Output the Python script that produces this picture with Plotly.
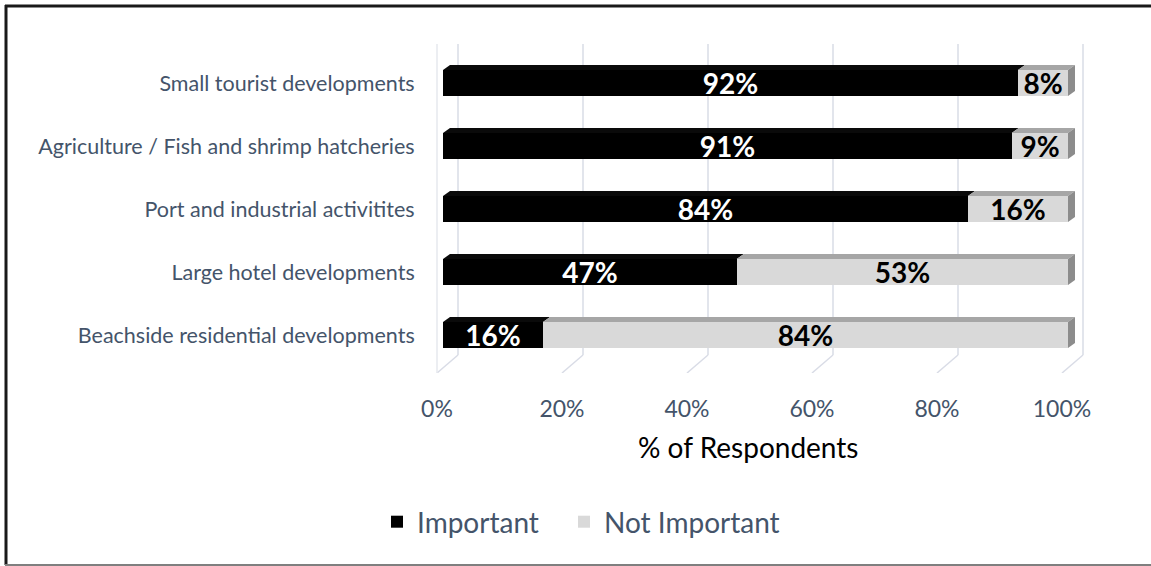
import plotly.graph_objects as go

# Survey responses: share of respondents rating each activity as a threat
categories = [
    "Small tourist developments",
    "Agriculture / Fish and shrimp hatcheries",
    "Port and industrial activitites",
    "Large hotel developments",
    "Beachside residential developments",
]
important = [92, 91, 84, 47, 16]
not_important = [8, 9, 16, 53, 84]
tick_values = [0, 20, 40, 60, 80, 100]
tick_labels = ["0%", "20%", "40%", "60%", "80%", "100%"]

# ---- canvas geometry (pixels) ----
W, H = 1151, 566
X0_PX, X100_PX = 443, 1068   # front face of the bars: 0% and 100%
PL, PR = 425, 1100           # plot area horizontal extent
T, B_PX = 40, 373            # plot area vertical extent
PW = PR - PL
PH = B_PX - T
ROW0 = 83                    # pixel centre of first row
ROW_STEP = 63

KX = (X100_PX - X0_PX) / 100.0   # px per percent
KY = ROW_STEP                     # px per row
x_min = (PL - X0_PX) / KX
x_max = (PR - X0_PX) / KX
y_top = -(ROW0 - T) / KY
y_bot = (B_PX - ROW0) / KY

rows = list(range(len(categories)))
BAR_W = 26 / KY


def xpx(v):
    return v / KX


def ypx(v):
    return v / KY


def row_at(py):
    return (py - ROW0) / KY


def px_to_paper_x(px):
    return (px - PL) / PW


def px_to_paper_y(py):
    return (B_PX - py) / PH


AXIS_COLOR = "#44546A"
FONT = "Lato"

fig = go.Figure()
fig.add_trace(go.Bar(
    name="Important", orientation="h", y=rows, x=important, width=BAR_W,
    marker=dict(color="#000000", line=dict(width=0)),
    texttemplate="%{x}%", textposition="inside", insidetextanchor="middle",
    textfont=dict(family=FONT, size=28, color="white", weight="bold"),
    constraintext="none", hoverinfo="x+name", legendwidth=142,
))
fig.add_trace(go.Bar(
    name="Not Important", orientation="h", y=rows, x=not_important, width=BAR_W,
    marker=dict(color="#D9D9D9", line=dict(width=0)),
    texttemplate="%{x}%", textposition="inside", insidetextanchor="middle",
    textfont=dict(family=FONT, size=28, color="black", weight="bold"),
    constraintext="none", hoverinfo="x+name",
))

shapes = []

# 3-D floor/back-wall grid: back vertical line + diagonal to the front edge
BACK_DX, FRONT_DX = 15, -6
GRID_TOP, GRID_BACK_BOTTOM = 44, 355
grid_col = "#D9DCE6"
for v in tick_values:
    xb = v + xpx(BACK_DX)
    xf = v + xpx(FRONT_DX)
    shapes.append(dict(type="line", xref="x", yref="y", x0=xb, x1=xb,
                       y0=row_at(GRID_TOP), y1=row_at(GRID_BACK_BOTTOM),
                       layer="below", line=dict(color=grid_col, width=1.5)))
    shapes.append(dict(type="line", xref="x", yref="y", x0=xb, x1=xf,
                       y0=row_at(GRID_BACK_BOTTOM), y1=y_bot,
                       layer="below", line=dict(color=grid_col, width=1.5)))
# front edge of the side wall
shapes.append(dict(type="line", xref="x", yref="y",
                   x0=xpx(FRONT_DX), x1=xpx(FRONT_DX),
                   y0=row_at(GRID_TOP), y1=y_bot, layer="below",
                   line=dict(color="#E6E8EE", width=1.5)))

# depth faces of the bars (top faces and right end cap)
DX, DY = xpx(7), ypx(5)
for r, a, b in zip(rows, important, not_important):
    top = r - BAR_W / 2
    bot = r + BAR_W / 2
    segs = [(0, a, "#0A0A0A"), (a, a + b, "#A6A6A6")]
    for x0, x1, col in segs:
        path = (f"M{x0},{top} L{x1},{top} L{x1 + DX},{top - DY} "
                f"L{x0 + DX},{top - DY} Z")
        shapes.append(dict(type="path", xref="x", yref="y", path=path,
                           fillcolor=col, line=dict(width=0), layer="above"))
    xe = a + b
    path = (f"M{xe},{top} L{xe + DX},{top - DY} L{xe + DX},{bot - DY} "
            f"L{xe},{bot} Z")
    shapes.append(dict(type="path", xref="x", yref="y", path=path,
                       fillcolor="#8C8C8C", line=dict(width=0), layer="above"))

# outer frame
shapes.append(dict(type="line", xref="paper", yref="paper",
                   x0=px_to_paper_x(6), x1=px_to_paper_x(6),
                   y0=px_to_paper_y(5), y1=px_to_paper_y(565),
                   line=dict(color="#1A1A1A", width=3)))
shapes.append(dict(type="line", xref="paper", yref="paper",
                   x0=px_to_paper_x(5), x1=px_to_paper_x(1160),
                   y0=px_to_paper_y(6), y1=px_to_paper_y(6),
                   line=dict(color="#1A1A1A", width=3)))
shapes.append(dict(type="line", xref="paper", yref="paper",
                   x0=px_to_paper_x(5), x1=px_to_paper_x(1160),
                   y0=px_to_paper_y(565), y1=px_to_paper_y(565),
                   line=dict(color="#7F7F7F", width=2)))

# axis title, centred under the front edge of the floor
annotations = [dict(
    text="% of Respondents", xref="paper", yref="paper",
    x=px_to_paper_x(748), y=px_to_paper_y(447),
    xanchor="center", yanchor="middle", showarrow=False,
    font=dict(family=FONT, size=28, color="black"),
)]

fig.update_layout(
    width=W, height=H,
    margin=dict(l=PL, r=W - PR, t=T, b=H - B_PX, autoexpand=False),
    paper_bgcolor="white", plot_bgcolor="white",
    barmode="stack", bargap=0,
    shapes=shapes, annotations=annotations,
    font=dict(family=FONT, color=AXIS_COLOR),
    xaxis=dict(
        range=[x_min, x_max], autorange=False,
        tickvals=[v + xpx(FRONT_DX) for v in tick_values], ticktext=tick_labels,
        showgrid=False, zeroline=False, showline=False,
        ticks="outside", ticklen=15, tickcolor="rgba(0,0,0,0)",
        tickfont=dict(family=FONT, size=23, color=AXIS_COLOR),
        fixedrange=True,
    ),
    yaxis=dict(
        range=[y_bot, y_top], autorange=False,
        tickvals=rows, ticktext=categories,
        showgrid=False, zeroline=False, showline=False,
        ticks="outside", ticklen=5, tickcolor="rgba(0,0,0,0)",
        tickfont=dict(family=FONT, size=21.5, color=AXIS_COLOR),
        fixedrange=True,
    ),
    legend=dict(
        orientation="h", x=px_to_paper_x(377), xanchor="left",
        y=px_to_paper_y(522), yanchor="middle",
        font=dict(family=FONT, size=28, color=AXIS_COLOR),
        bgcolor="rgba(0,0,0,0)", traceorder="normal",
    ),
    showlegend=True,
)

fig.write_html("out.html")
